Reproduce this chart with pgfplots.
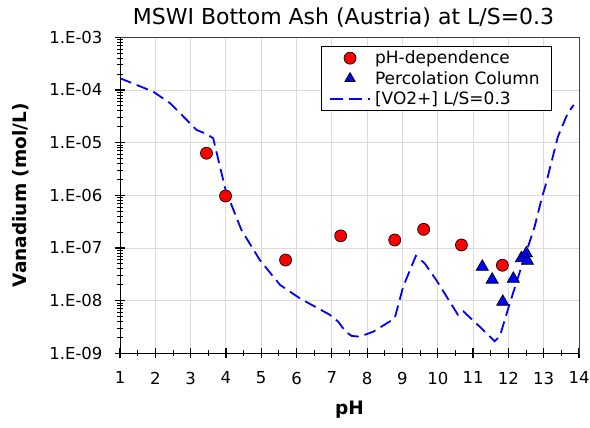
\documentclass[border=0pt]{standalone}
\usepackage{pgfplots}
\pgfplotsset{compat=1.18}
\usepackage{fontspec}
\setmainfont{DejaVu Sans}

\pgfplotstableread{
x y
3.45 6.3e-6
3.99 9.7e-7
5.69 5.9e-8
7.25 1.7e-7
8.78 1.42e-7
9.60 2.26e-7
10.67 1.14e-7
11.83 4.7e-8
}\phdep

\pgfplotstableread{
x y
11.26 4.4e-8
11.54 2.5e-8
11.84 9.5e-9
12.14 2.6e-8
12.37 6.4e-8
12.51 7.9e-8
12.54 5.7e-8
}\percol

\pgfplotstableread{
x y
1.00 1.67e-4
1.94 9.3e-5
2.42 5.6e-5
3.17 1.74e-5
3.45 1.46e-5
3.64 1.21e-5
3.99 1.26e-6
4.44 2.19e-7
4.96 5.9e-8
5.53 2.0e-8
6.09 1.11e-8
6.94 5.4e-9
7.18 4.0e-9
7.39 2.57e-9
7.56 2.14e-9
7.79 2.07e-9
8.17 2.57e-9
8.78 4.6e-9
9.02 1.84e-8
9.38 7.1e-8
9.63 5.1e-8
9.96 2.45e-8
10.57 5.4e-9
10.72 6.3e-9
11.19 3.2e-9
11.61 1.7e-9
11.76 2.14e-9
12.04 8.9e-9
12.37 4.4e-8
12.74 2.5e-7
12.93 8.1e-7
13.07 1.7e-6
13.40 1.29e-5
13.68 3.6e-5
13.85 5.2e-5
}\vo

\begin{document}
\begin{tikzpicture}
\begin{axis}[
    name=ax,
    scale only axis,
    width=459pt, height=316pt,
    ymode=log,
    xmin=1, xmax=14,
    ymin=1e-9, ymax=1e-3,
    xtick={1,2,...,14},
    minor x tick num=1,
    ytick={1e-9,1e-8,1e-7,1e-6,1e-5,1e-4,1e-3},
    yticklabels={1.E-09,1.E-08,1.E-07,1.E-06,1.E-05,1.E-04,1.E-03},
    xticklabels={1,2,3,4,5,6,7,8,9,10,11,12,13,14},
    tick pos=left,
    tick align=center,
    major tick length=10pt,
    minor tick length=6pt,
    tick style={black, line width=1.2pt},
    minor tick style={line width=0.9pt},
    grid=major,
    major grid style={draw=black!14, line width=0.9pt},
    axis line style={draw=black!75, line width=0.8pt},
    tick label style={font=\fontsize{16.5}{20}\selectfont},
    xticklabel style={yshift=-10pt},
    yticklabel style={xshift=-9pt},
    title={MSWI Bottom Ash (Austria) at L/S=0.3},
    title style={font=\fontsize{22}{26}\selectfont, xshift=-6pt},
    xlabel={pH},
    ylabel={Vanadium (mol/L)},
    label style={font=\fontsize{18.5}{22}\selectfont\bfseries},
    xlabel style={yshift=-10pt},
    ylabel style={yshift=14pt},
    legend style={at={(0.437,0.9725)}, anchor=north west,
        draw=black, line width=0.9pt, fill=white,
        font=\fontsize{17}{20}\selectfont,
        row sep=2pt, inner xsep=8pt, inner ysep=2.5pt,
        legend cell align=left,
        nodes={inner xsep=4pt}},
    legend image code/.code={
        \draw[mark repeat=2, mark phase=2, #1]
            plot coordinates {(0pt,0pt) (20pt,0pt) (40pt,0pt)};},
]
\addplot[only marks, mark=*, mark size=6pt, fill=red, draw=black, line width=0.7pt] table {\phdep};
\addlegendentry{pH-dependence}
\addplot[only marks, mark=triangle*, mark size=7pt, fill=blue, draw=black, line width=0.7pt,
    legend image post style={mark size=6pt}] table {\percol};
\addlegendentry{Percolation Column}
\addplot[blue, line width=1.8pt, dash pattern=on 12pt off 6pt, mark=none,
    legend image post style={line width=2pt, dash pattern=on 13pt off 6pt}] table {\vo};
\addlegendentry{[VO2+] L/S=0.3}
\draw[black, line width=1.6pt] (rel axis cs:0,1) -- (rel axis cs:0,0) -- (rel axis cs:1,0);
\end{axis}
\pgfresetboundingbox
\path ([xshift=-120pt,yshift=-73.7pt]ax.south west) rectangle ([xshift=11pt,yshift=37.3pt]ax.north east);
\end{tikzpicture}
\end{document}
